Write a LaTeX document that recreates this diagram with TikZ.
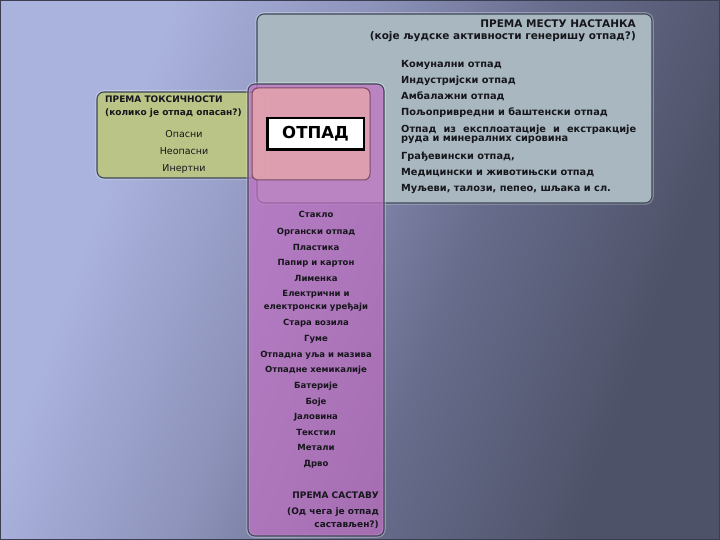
\documentclass[tikz,border=0pt]{standalone}
\usepackage{fontspec}
\setmainfont{DejaVu Sans}
\usepackage{xcolor}

\definecolor{ink}{HTML}{16161C}
\definecolor{edge}{HTML}{3B4656}
\definecolor{slate}{HTML}{A9B8C0}
\definecolor{olive}{HTML}{B9C486}
\definecolor{orchid}{HTML}{C070C2}
\definecolor{blush}{HTML}{E2A2AE}
\definecolor{plum}{HTML}{7C4868}
\definecolor{bglight}{HTML}{AAB2DE}
\definecolor{bgmid}{HTML}{8D93BA}
\definecolor{bgdim}{HTML}{676C8C}
\definecolor{bgdark}{HTML}{4E5268}
\definecolor{frame}{HTML}{3A3E50}

\pgfdeclarehorizontalshading{bgwash}{100bp}{color(0bp)=(bglight); color(30bp)=(bglight); color(44bp)=(bgmid); color(57bp)=(bgdim); color(72bp)=(bgdark); color(100bp)=(bgdark)}

\tikzset{
  panel/.style={rounded corners=7pt, draw=edge, line width=1.1pt,
    preaction={draw=white, draw opacity=.3, line width=3.5pt}},
  inset/.style={rounded corners=6pt, draw=plum, line width=1pt},
  head/.style={inner sep=0pt, text=ink, font=\bfseries\fontsize{10.5}{12}\selectfont},
  subhead/.style={inner sep=0pt, text=ink, font=\bfseries\fontsize{9}{11}\selectfont},
  item/.style={inner sep=0pt, text=ink, font=\bfseries\fontsize{8.5}{10}\selectfont},
  lightitem/.style={inner sep=0pt, text=ink, font=\fontsize{9.5}{11}\selectfont},
  bigitem/.style={inner sep=0pt, text=ink, font=\bfseries\fontsize{9.8}{11}\selectfont}
}

\begin{document}
\begin{tikzpicture}[x=1pt, y=-1pt]
  \useasboundingbox (0,0) rectangle (720,540);
  \shade[shading=bgwash, shading angle=-20] (0,0) rectangle (720,540);
  \draw[frame, line width=1.5pt] (0,0) rectangle (720,540);

  \draw[panel, fill=slate] (257,14) rectangle (652,203);
  \draw[panel, fill=olive] (97,92) rectangle (265,178);
  \draw[panel, fill=orchid, fill opacity=.72] (248,84) rectangle (384,536);
  \draw[inset, fill=blush, fill opacity=.9] (252,88) rectangle (370,180);

  \node[draw=black, line width=2.5pt, fill=white, minimum width=96.5pt, minimum height=31.5pt,
        font=\bfseries\fontsize{16.5}{18}\selectfont] (otpad) at (315.5,134) {ОТПАД};

  \node[head, anchor=base east] (mesto) at (636,28) {ПРЕМА МЕСТУ НАСТАНКА};
  \node[head, anchor=base east] (mestoq) at (636,40) {(које људске активности генеришу отпад?)};
  \node[bigitem, anchor=base west] (kom) at (401,68) {Комунални отпад};
  \node[bigitem, anchor=base west] (ind) at (401,84) {Индустријски отпад};
  \node[bigitem, anchor=base west] (amb) at (401,100) {Амбалажни отпад};
  \node[bigitem, anchor=base west] (polj) at (401,116) {Пољопривредни и баштенски отпад};
  \node[bigitem, anchor=base west] (eksp) at (401,133) {\makebox[235pt][s]{Отпад из експлоатације и екстракције}};
  \node[bigitem, anchor=base west] (ruda) at (401,142) {руда и минералних сировина};
  \node[bigitem, anchor=base west] (grad) at (401,160) {Грађевински отпад,};
  \node[bigitem, anchor=base west] (med) at (401,176) {Медицински и животињски отпад};
  \node[bigitem, anchor=base west] (mulj) at (401,192) {Муљеви, талози, пепео, шљака и сл.};

  \node[subhead, anchor=base west] (toks) at (105,103) {ПРЕМА ТОКСИЧНОСТИ};
  \node[subhead, anchor=base west] (toksq) at (105,116) {(колико је отпад опасан?)};
  \node[lightitem, anchor=base] (opas) at (184,138) {Опасни};
  \node[lightitem, anchor=base] (neop) at (184,155) {Неопасни};
  \node[lightitem, anchor=base] (inert) at (184,172) {Инертни};

  \node[item, anchor=base] (stak) at (316,218) {Стакло};
  \node[item, anchor=base] (org) at (316,234) {Органски отпад};
  \node[item, anchor=base] (plast) at (316,250) {Пластика};
  \node[item, anchor=base] (papir) at (316,265) {Папир и картон};
  \node[item, anchor=base] (lim) at (316,281) {Лименка};
  \node[item, anchor=base] (elek) at (316,296) {Електрични и};
  \node[item, anchor=base] (elekb) at (316,309) {електронски уређаји};
  \node[item, anchor=base] (voz) at (316,325) {Стара возила};
  \node[item, anchor=base] (gume) at (316,341) {Гуме};
  \node[item, anchor=base] (ulja) at (316,357) {Отпадна уља и мазива};
  \node[item, anchor=base] (hem) at (316,372) {Отпадне хемикалије};
  \node[item, anchor=base] (bat) at (316,388) {Батерије};
  \node[item, anchor=base] (boje) at (316,404) {Боје};
  \node[item, anchor=base] (jal) at (316,419) {Јаловина};
  \node[item, anchor=base] (tekst) at (316,435) {Текстил};
  \node[item, anchor=base] (met) at (316,450) {Метали};
  \node[item, anchor=base] (drvo) at (316,466) {Дрво};

  \node[subhead, anchor=base east] (sast) at (379,498) {ПРЕМА САСТАВУ};
  \node[subhead, anchor=base east] (sastq) at (379,514) {(Од чега је отпад};
  \node[subhead, anchor=base east] (sastqb) at (379,527) {састављен?)};
\end{tikzpicture}
\end{document}
